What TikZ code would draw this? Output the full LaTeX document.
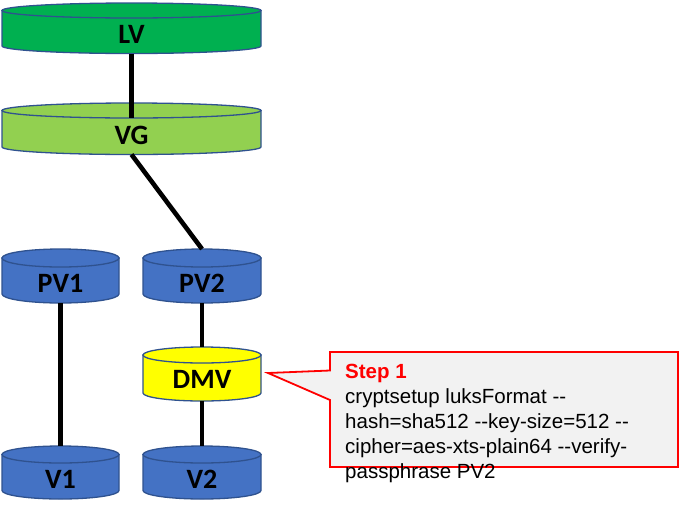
\documentclass[tikz,border=0pt]{standalone}
\usepackage{fontspec}
\setmainfont{Liberation Sans}
\newfontfamily\labelfont{Carlito}
\definecolor{lvgreen}{HTML}{00B050}
\definecolor{vggreen}{HTML}{92D050}
\definecolor{pvblue}{HTML}{4472C4}
\definecolor{dmvyellow}{HTML}{FFFF00}
\definecolor{cylborder}{HTML}{2F528F}
\definecolor{calloutfill}{HTML}{F2F2F2}
\definecolor{calloutred}{HTML}{FF0000}
\newcommand\dd{-\kern0pt-}
\tikzset{
  cylstyle/.style={draw=cylborder, line width=1.3pt},
  cyllabel/.style={font=\labelfont\bfseries\fontsize{28}{30}\selectfont, anchor=base, inner sep=0pt},
  link/.style={line width=4.6pt, black},
  callout/.style={draw=calloutred, fill=calloutfill, line width=1.8pt, line join=miter},
}
% #1 name, #2 cx, #3 rx, #4 top ellipse centre y, #5 bottom ellipse centre y, #6 ry, #7 fill, #8 label, #9 label baseline y
\newcommand\mycyl[9]{%
  \filldraw[cylstyle, fill=#7] (#2-#3,-#4) -- (#2-#3,-#5)
     arc[start angle=180, end angle=360, x radius=#3pt, y radius=#6pt]
     -- (#2+#3,-#4) -- cycle;
  \filldraw[cylstyle, fill=#7] (#2,-#4) ellipse[x radius=#3pt, y radius=#6pt];
  \node[cyllabel] (#1) at (#2,-#9) {#8};
  \coordinate (#1-top) at (#2,-#4+#6);
  \coordinate (#1-front) at (#2,-#4-#6);
  \coordinate (#1-bot) at (#2,-#5-#6);
}
\begin{document}
\begin{tikzpicture}[x=1pt,y=1pt]
\useasboundingbox (0,0) rectangle (680,-512);
\mycyl{LV}{131.5}{129.5}{10.5}{46}{7.5}{lvgreen}{LV}{43}
\mycyl{VG}{131.5}{129.5}{110.5}{147}{7.5}{vggreen}{VG}{144}
\mycyl{PV1}{60.5}{58.5}{258}{294}{9}{pvblue}{PV1}{292}
\mycyl{PV2}{202}{59}{258}{294}{9}{pvblue}{PV2}{292}
\mycyl{DMV}{202}{59}{355}{393}{8}{dmvyellow}{DMV}{388}
\mycyl{V1}{60.5}{58.5}{454.5}{490.5}{8.5}{pvblue}{V1}{488}
\mycyl{V2}{202}{59}{454.5}{490.5}{8.5}{pvblue}{V2}{488}
% connectors
\draw[link] (LV-bot) -- (VG-front);
\draw[link] (VG-bot) -- (PV2-top);
\draw[link] (PV1-bot) -- (V1-top);
\draw[link] (PV2-bot) -- (DMV-top);
\draw[link] (DMV-bot) -- (V2-top);
% callout
\coordinate (tip) at (268,-373);
\draw[callout] (330,-352) -- (678,-352) -- (678,-467) -- (330,-467) -- (330,-400) -- (tip) -- (330,-370.5) -- cycle;
\node[anchor=north west, inner sep=0pt, align=left, font=\fontsize{20.5}{25}\selectfont] (step) at (345,-364.3)
  {\textcolor{calloutred}{\bfseries Step 1}\\
   cryptsetup luksFormat \dd\\
   hash=sha512 \dd key-size=512 \dd\\
   cipher=aes-xts-plain64 \dd verify-\\
   passphrase PV2};
\end{tikzpicture}
\end{document}
